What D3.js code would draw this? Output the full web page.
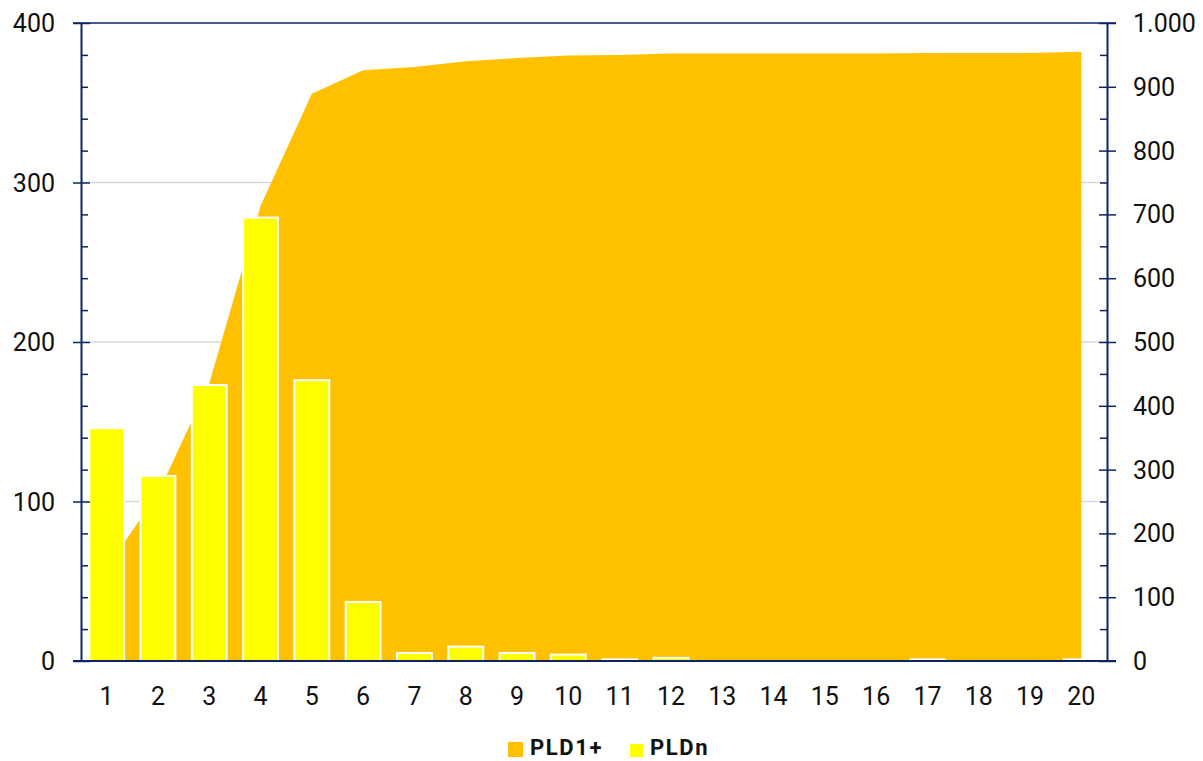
<!DOCTYPE html>
<html lang="en">
<head>
    <meta charset="UTF-8">
    <title>PLD1+ / PLDn</title>
    <script src="https://d3js.org/d3.v7.min.js"></script>
    <style>
        body { margin: 0; background: #fff; }
        text { font-family: Roboto, "Noto Sans", sans-serif; fill: #111; }
    </style>
</head>
<body>
    <svg></svg>
    <script>
        const w = 1203;
        const h = 761;

        // data
        const categories = d3.range(1, 21).map(String);
        const pldn = [146, 116, 173, 278, 176, 37, 5, 9, 5, 4, 1, 2, 0, 0, 0, 0, 1, 0, 0, 1];
        const pld1 = [146, 262, 435, 713, 889, 926, 931, 940, 945, 949, 950, 952, 952, 952, 952, 952, 953, 953, 953, 955];
        const leftTicks = [0, 100, 200, 300, 400];
        const rightTicks = [0, 100, 200, 300, 400, 500, 600, 700, 800, 900, 1000];

        const m = { left: 81, right: 96, top: 23, bottom: 100 };
        const axisColor = '#0b2466';

        const svg = d3.select('svg')
            .attr('width', w)
            .attr('height', h);

        const x = d3.scaleBand()
            .domain(categories)
            .range([m.left, w - m.right])
            .paddingInner(0.32)
            .paddingOuter(0.16);
        const xc = d => x(d) + x.bandwidth() / 2;

        const yL = d3.scaleLinear().domain([0, 400]).range([h - m.bottom, m.top]);
        const yR = d3.scaleLinear().domain([0, 1000]).range([h - m.bottom, m.top]);

        // gridlines
        svg.append('g')
            .selectAll('line')
            .data(leftTicks.slice(1, -1))
            .join('line')
            .attr('x1', m.left)
            .attr('x2', w - m.right)
            .attr('y1', d => yL(d))
            .attr('y2', d => yL(d))
            .attr('stroke', '#d9d9d9')
            .attr('stroke-width', 1.5);

        // cumulative area on right axis
        const area = d3.area()
            .x((d, i) => xc(categories[i]))
            .y0(yR(0))
            .y1(d => yR(d));

        svg.append('path')
            .datum(pld1)
            .attr('fill', '#ffc000')
            .attr('d', area);

        // bars on left axis
        svg.append('g')
            .selectAll('rect')
            .data(pldn)
            .join('rect')
            .attr('x', (d, i) => x(categories[i]))
            .attr('y', d => yL(d))
            .attr('width', x.bandwidth())
            .attr('height', d => yL(0) - yL(d))
            .attr('fill', '#ffff00')
            .attr('stroke', d => d > 0 ? '#fff' : 'none')
            .attr('stroke-width', 2);

        // top border
        svg.append('line')
            .attr('x1', m.left - 8)
            .attr('x2', w - m.right + 9)
            .attr('y1', m.top)
            .attr('y2', m.top)
            .attr('stroke', axisColor)
            .attr('stroke-width', 1.5);

        // left axis
        const gl = svg.append('g')
            .attr('transform', `translate(${m.left},0)`)
            .call(d3.axisLeft(yL).tickValues(d3.range(0, 401, 20)).tickSize(0).tickFormat(''));
        gl.select('.domain').attr('stroke', axisColor).attr('stroke-width', 2);
        gl.selectAll('.tick line')
            .attr('stroke', axisColor)
            .attr('stroke-width', 1.5)
            .attr('x1', d => d % 100 === 0 ? -8 : 0)
            .attr('x2', d => d % 100 === 0 ? 9 : 7);
        svg.append('g')
            .selectAll('text')
            .data(leftTicks)
            .join('text')
            .attr('x', m.left - 26)
            .attr('y', d => yL(d))
            .attr('dy', '0.36em')
            .attr('text-anchor', 'end')
            .attr('font-size', 25)
            .text(d => d);

        // right axis
        const gr = svg.append('g')
            .attr('transform', `translate(${w - m.right},0)`)
            .call(d3.axisRight(yR).tickValues(d3.range(0, 1001, 50)).tickSize(0).tickFormat(''));
        gr.select('.domain').attr('stroke', axisColor).attr('stroke-width', 2);
        gr.selectAll('.tick line')
            .attr('stroke', axisColor)
            .attr('stroke-width', 1.5)
            .attr('x1', d => d % 100 === 0 ? -8 : -7)
            .attr('x2', d => d % 100 === 0 ? 9 : 0);
        svg.append('g')
            .selectAll('text')
            .data(rightTicks)
            .join('text')
            .attr('x', w - m.right + 26)
            .attr('y', d => yR(d))
            .attr('dy', '0.36em')
            .attr('font-size', 25)
            .text(d => d3.format(',')(d).replace(',', '.'));

        // bottom axis
        svg.append('line')
            .attr('x1', m.left - 8)
            .attr('x2', w - m.right + 9)
            .attr('y1', yL(0))
            .attr('y2', yL(0))
            .attr('stroke', axisColor)
            .attr('stroke-width', 2);
        svg.append('g')
            .selectAll('text')
            .data(categories)
            .join('text')
            .attr('x', d => xc(d))
            .attr('y', yL(0) + 35)
            .attr('dy', '0.36em')
            .attr('text-anchor', 'middle')
            .attr('font-size', 25)
            .text(d => d);

        // legend
        const legend = [
            { name: 'PLD1+', color: '#ffc000', x: 508, size: 15 },
            { name: 'PLDn', color: '#ffff00', x: 630, size: 13 }
        ];
        const lg = svg.append('g').selectAll('g').data(legend).join('g');
        lg.append('rect')
            .attr('x', d => d.x)
            .attr('y', d => 757 - d.size)
            .attr('width', d => d.size)
            .attr('height', d => d.size)
            .attr('fill', d => d.color);
        lg.append('text')
            .attr('x', d => d.x + d.size + 7)
            .attr('y', 755)
            .attr('font-size', 22)
            .attr('font-weight', 'bold')
            .attr('letter-spacing', 1.6)
            .text(d => d.name);
    </script>
</body>
</html>
